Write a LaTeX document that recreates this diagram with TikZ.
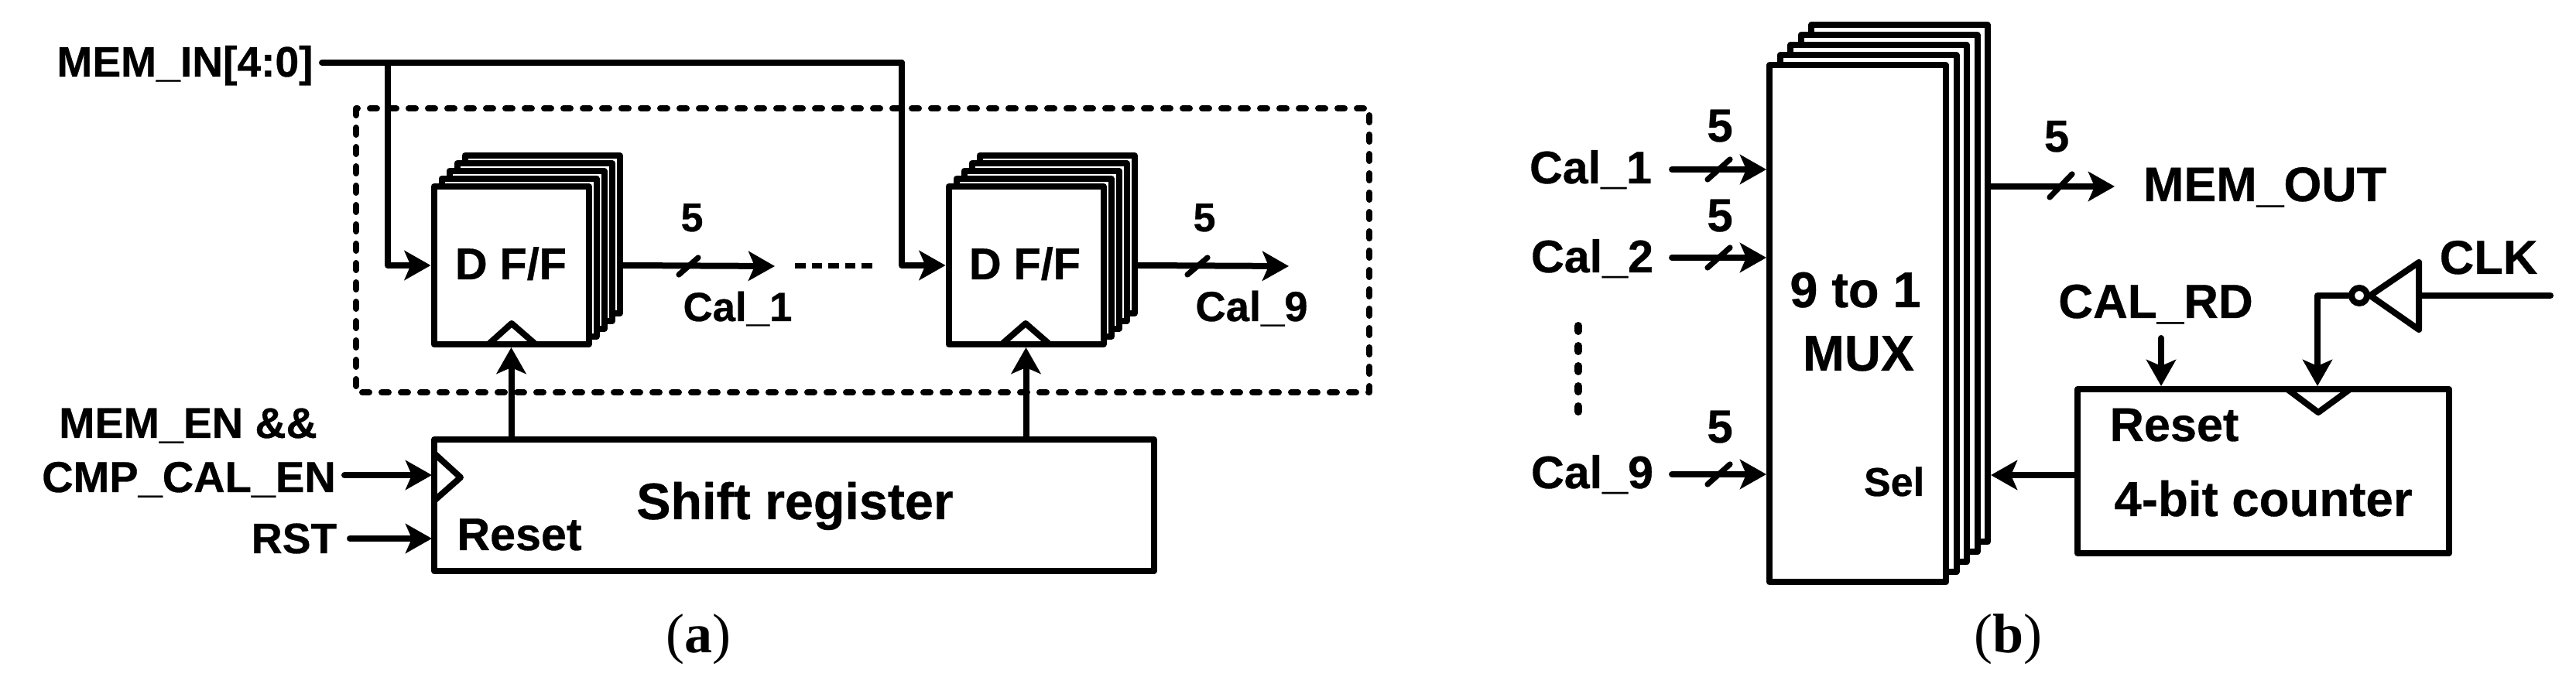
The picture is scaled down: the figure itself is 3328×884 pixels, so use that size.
\documentclass[tikz,border=0pt]{standalone}
\usepackage{fontspec}
\setmainfont{Liberation Sans}[BoldFeatures={FakeBold=0.5}]
\newfontfamily\capfont{Liberation Serif}
\usetikzlibrary{arrows.meta,calc}
\tikzset{
  wire/.style={line width=2pt,line cap=round,line join=round},
  sig/.style={wire,-{Stealth[length=8.5pt,width=9.5pt,inset=2pt]}},
  slash/.style={line width=1.8pt,line cap=round},
  box/.style={draw,fill=white,line width=2pt,line join=round,inner sep=0pt},
  ff/.style={box,minimum width=50pt,minimum height=51pt},
  mux/.style={box,minimum width=57pt,minimum height=167pt},
  lab/.style={anchor=base,inner sep=0pt,font=\bfseries\fontsize{#1}{#1}\selectfont},
  subcap/.style={anchor=base,inner sep=0pt,font=\capfont\fontsize{18}{18}\selectfont},
}
\begin{document}
\begin{tikzpicture}[x=0.25pt,y=-0.25pt]
\useasboundingbox (0,0) rectangle (3328,884);

%% panel (a)
\draw[wire,dash pattern=on 2.25pt off 4pt] (460,140) rectangle (1769,507);

\foreach \i in {4,3,2,1} {
  \node[ff] (ffa\i) at ({660.5+10*\i},{343-10*\i}) {};
  \node[ff] (ffb\i) at ({1325.5+10*\i},{343-10*\i}) {};
}
\node[ff] (ffa) at (660.5,343) {};
\node[ff] (ffb) at (1325.5,343) {};
\node[lab=14.4] (ffatxt) at (660,361) {D F/F};
\node[lab=14.4] (ffbtxt) at (1324,361) {D F/F};
\draw[wire] (631,445) -- (661,418) -- (692,445);
\draw[wire] (1294,445) -- (1325,418) -- (1356,445);

\node[box,minimum width=232.5pt,minimum height=42.5pt] (sr) at (1026,653) {};
\node[lab=16.6] (srtxt) at (1027,671) {Shift register};
\node[lab=14.8] (srrst) at (671,711) {Reset};
\draw[wire] (561,586) -- (595,617) -- (561,647);

\node[lab=13.8] (memin) at (239,99) {MEM\_IN[4:0]};
\node[lab=13.9] (memen) at (243,566) {MEM\_EN \&\&};
\node[lab=14] (cmpen) at (244,636) {CMP\_CAL\_EN};
\node[lab=13.8] (rst) at (380,715) {RST};

\coordinate (memstart) at (416,81);
\coordinate (brancha) at (501,81);
\coordinate (turnb) at (1165,81);
\draw[wire] (memstart) -- (turnb);
\draw[sig] (brancha) |- (ffa.west);
\draw[sig] (turnb) |- (ffb.west);

\coordinate (cmpstart) at (445,614);
\coordinate (cmpend) at (558,614);
\coordinate (rststart) at (452,696);
\coordinate (rstend) at (558,696);
\draw[sig] (cmpstart) -- (cmpend);
\draw[sig] (rststart) -- (rstend);
\draw[sig] (sr.north -| ffa.south) -- (ffa.south);
\draw[sig] (sr.north -| ffb.south) -- (ffb.south);

\coordinate (outa) at (1001,344);
\coordinate (outb) at (1665,344);
\draw[sig] (ffa4.east |- ffa.east) -- (outa);
\draw[sig] (ffb4.east |- ffb.east) -- (outb);
\draw[slash] (877,355) -- (902,333);
\draw[slash] (1534,355) -- (1560,333);
\node[lab=13] (fivea) at (894,299) {5};
\node[lab=13] (fiveb) at (1556,299) {5};
\node[lab=13.2] (cala) at (953,415) {Cal\_1};
\node[lab=13.6] (calb) at (1617,415) {Cal\_9};
\coordinate (dota) at (1027,344);
\coordinate (dotb) at (1133,344);
\draw[wire,line width=1.75pt,line cap=butt,dash pattern=on 3.4pt off 2pt] (dota) -- (dotb);
\node[subcap] (capa) at (902,844) {(\textbf{a})};

%% panel (b)
\foreach \i in {4,3,2,1} {
  \node[mux] (mx\i) at ({2400+13.5*\i},{418.5-13*\i}) {};
}
\node[mux] (mx) at (2400,418.5) {};
\node[lab=16.2] (mxa) at (2397,397) {9 to 1};
\node[lab=16.2] (mxb) at (2401,479) {MUX};
\node[lab=13] (sel) at (2447,641) {Sel};

\node[lab=14.8] (calone) at (2055,237) {Cal\_1};
\node[lab=14.8] (caltwo) at (2057,352) {Cal\_2};
\node[lab=14.8] (calnine) at (2057,631) {Cal\_9};
\foreach \n/\y/\b in {a/219/183,b/333/299,c/613/572} {
  \coordinate (in\n s) at (2160,\y);
  \coordinate (in\n e) at (2282,\y);
  \draw[sig] (in\n s) -- (in\n e);
  \draw[slash] (2206,{\y+13}) -- (2235,{\y-13});
  \node[lab=15] (five\n) at (2222,\b) {5};
}
\draw[line width=2.5pt,line cap=round,dash pattern=on 1.75pt off 4.75pt] (2039,421) -- (2039,532);

\coordinate (mout) at (2732,241);
\draw[sig] (mx4.east |- mout) -- (mout);
\draw[slash] (2648,255) -- (2677,225);
\node[lab=14.5] (fived) at (2657,196) {5};
\node[lab=15.7] (memout) at (2926,260) {MEM\_OUT};

\node[box,minimum width=120pt,minimum height=53pt] (ctr) at (2924,609) {};
\node[lab=15.3] (ctrrst) at (2809,570) {Reset};
\node[lab=15.9] (ctrtxt) at (2924,667) {4-bit counter};
\draw[wire] (2955,503) -- (2995,533) -- (3036,503);
\coordinate (selin) at (2684,614);
\draw[sig] (selin) -- (selin -| mx4.east);

\node[lab=15.5] (calrd) at (2785,411) {CAL\_RD};
\coordinate (rdstart) at (2792,437);
\draw[sig] (rdstart) -- (rdstart |- ctr.north);

\node[lab=15.4] (clk) at (3215,354) {CLK};
\draw[wire] (3062,382) -- (3125,339) -- (3125,426) -- cycle;
\node[circle,draw,line width=2pt,inner sep=0pt,minimum size=5pt] (bub) at (3048,382) {};
\coordinate (clkstart) at (3295,382);
\coordinate (invin) at (3125,382);
\coordinate (ckturn) at (2994,382);
\draw[wire] (clkstart) -- (invin);
\draw[sig] (bub.west) -- (ckturn) -- (ckturn |- ctr.north);
\node[subcap] (capb) at (2594,844) {(\textbf{b})};
\end{tikzpicture}
\end{document}
